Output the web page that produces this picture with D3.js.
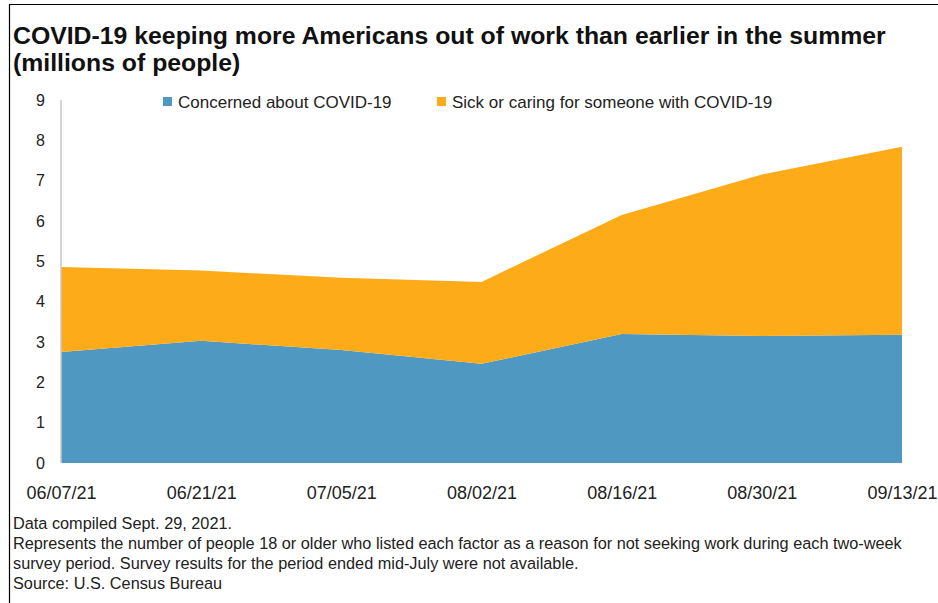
<!DOCTYPE html>
<html>
<head>
<meta charset="utf-8">
<script src="https://cdn.jsdelivr.net/npm/d3@7"></script>
<style>
  body { margin: 0; background: #fff; }
  text { font-family: "Liberation Sans", Arial, sans-serif; }
</style>
</head>
<body>
<svg id="chart" width="938" height="603"></svg>
<script>
// survey periods (mid-July missing)
var dates = ["06/07/21", "06/21/21", "07/05/21", "08/02/21", "08/16/21", "08/30/21", "09/13/21"];
var concerned = [2.75, 3.03, 2.8, 2.46, 3.2, 3.15, 3.18];
var sick = [2.11, 1.74, 1.79, 2.03, 2.95, 4.0, 4.66];
var seriesNames = ["Concerned about COVID-19", "Sick or caring for someone with COVID-19"];
var colors = ["#4e98c1", "#fdab19"];
var yTicks = [0, 1, 2, 3, 4, 5, 6, 7, 8, 9];

var svg = d3.select("#chart");

// frame lines left + top
svg.append("line").attr("x1", 9.5).attr("x2", 9.5).attr("y1", 4).attr("y2", 603)
    .attr("stroke", "#000").attr("stroke-width", 1.2);
svg.append("line").attr("x1", 9).attr("x2", 938).attr("y1", 4.5).attr("y2", 4.5)
    .attr("stroke", "#000").attr("stroke-width", 1.2);

// title
svg.append("text").attr("x", 13).attr("y", 44)
    .attr("font-size", "24.8px").attr("font-weight", "bold").attr("fill", "#111")
    .text("COVID-19 keeping more Americans out of work than earlier in the summer");
svg.append("text").attr("x", 13).attr("y", 71)
    .attr("font-size", "24.8px").attr("font-weight", "bold").attr("fill", "#111")
    .text("(millions of people)");

var plotL = 61, plotR = 902, plotT = 100, plotB = 463;

var x = d3.scalePoint().domain(dates).range([plotL, plotR]);
var y = d3.scaleLinear().domain([0, 9]).range([plotB, plotT]);

var table = dates.map(function(d, i) {
    return { date: d, a: concerned[i], b: sick[i] };
});
var stacked = d3.stack().keys(["a", "b"])(table);

var area = d3.area()
    .x(function(d) { return x(d.data.date); })
    .y0(function(d) { return y(d[0]); })
    .y1(function(d) { return y(d[1]); });

svg.selectAll("path.layer")
    .data(stacked)
    .enter()
    .append("path")
    .attr("class", "layer")
    .attr("d", area)
    .attr("fill", function(d, i) { return colors[i]; });

// y axis
var yAxis = svg.append("g")
    .attr("transform", "translate(" + plotL + ",0)")
    .call(d3.axisLeft(y).tickValues(yTicks).tickSize(0).tickPadding(16));
yAxis.select(".domain").remove();
yAxis.selectAll("text").attr("font-size", "16px").attr("fill", "#222");
svg.append("line").attr("x1", plotL).attr("x2", plotL).attr("y1", plotT).attr("y2", plotB)
    .attr("stroke", "#c8c8c8").attr("stroke-width", 1.5);

// x axis
var xAxis = svg.append("g")
    .attr("transform", "translate(0," + plotB + ")")
    .call(d3.axisBottom(x).tickSize(0).tickPadding(23));
xAxis.select(".domain").remove();
xAxis.selectAll("text").attr("font-size", "18px").attr("fill", "#222");

// legend
var legendX = [163, 437];
seriesNames.forEach(function(name, i) {
    svg.append("rect").attr("x", legendX[i]).attr("y", 97)
        .attr("width", 9).attr("height", 9).attr("fill", colors[i]);
    svg.append("text").attr("x", legendX[i] + 15).attr("y", 108)
        .attr("font-size", "17px").attr("fill", "#222").text(name);
});

// notes
var notes = [
    "Data compiled Sept. 29, 2021.",
    "Represents the number of people 18 or older who listed each factor as a reason for not seeking work during each two-week",
    "survey period. Survey results for the period ended mid-July were not available.",
    "Source: U.S. Census Bureau"
];
svg.selectAll("text.note")
    .data(notes)
    .enter()
    .append("text")
    .attr("class", "note")
    .attr("x", 13)
    .attr("y", function(d, i) { return 529 + i * 20; })
    .attr("font-size", "16.3px")
    .attr("fill", "#222")
    .text(function(d) { return d; });
</script>
</body>
</html>
